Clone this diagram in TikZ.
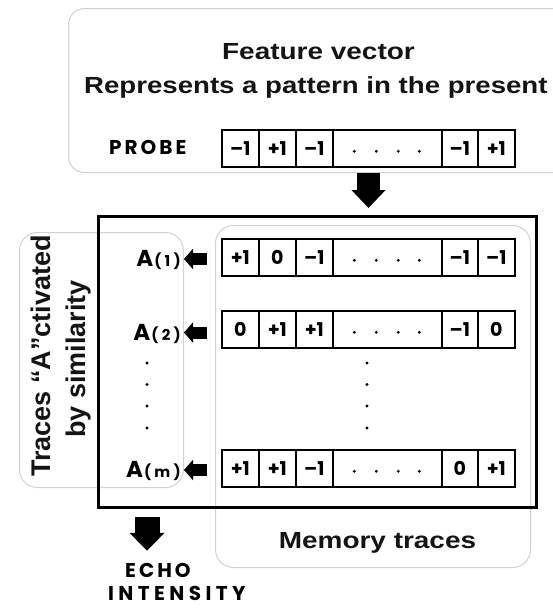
\documentclass[tikz,border=0pt]{standalone}
\usepackage{fontspec}
\setmainfont{Liberation Sans}
\newfontfamily\retro[LetterSpace=15]{Poppins}
\newfontfamily\retrowide[LetterSpace=22]{Poppins}
\newfontfamily\retrocell{Poppins}
\usetikzlibrary{arrows.meta}
\definecolor{boxgray}{gray}{0.82}
\definecolor{ink}{gray}{0.08}
\tikzset{
 softbox/.style={draw=boxgray, line width=1pt, rounded corners=16pt, inner sep=0pt, anchor=north west},
 cellbox/.style={draw=black, line width=1.6pt, inner sep=0pt, minimum height=37pt, anchor=north west,
   font=\retrocell\bfseries\fontsize{19}{19}\selectfont},
 helv/.style={font=\bfseries\fontsize{23.3}{28}\selectfont, text=ink, inner sep=0pt},
 rotlabel/.style={font=\bfseries\fontsize{27}{27}\selectfont, text=ink, inner sep=0pt, rotate=90, anchor=base},
 retrolabel/.style={font=\retro\bfseries\fontsize{20}{20}\selectfont, inner sep=0pt, text depth=0pt},
 alabel/.style={inner sep=0pt, text height=15pt, text depth=0pt, anchor=east},
 downarr/.style={line width=23pt, -{Triangle[width=33pt,length=18pt]}},
 echoarr/.style={line width=25pt, -{Triangle[width=34pt,length=18pt]}},
 leftarr/.style={line width=12pt, -{Triangle[width=20pt,length=9pt]}},
 vdot/.style={circle, fill=black, inner sep=0pt, minimum size=3.2pt},
}
\newcommand\Alab[1]{{\retro\bfseries\fontsize{23}{23}\selectfont A\kern1pt\retrowide\fontsize{15}{15}\selectfont(#1)\kern-3pt}}
% #1 name, #2 top y, #3..#7 values of the cells
\newcommand\vecrow[7]{%
  \node[cellbox, minimum width=37pt] (#1a) at (221,#2) {#3};
  \node[cellbox, minimum width=37pt] (#1b) at (258,#2) {#4};
  \node[cellbox, minimum width=37pt] (#1c) at (295,#2) {#5};
  \node[cellbox, minimum width=109pt] (#1d) at (332,#2) {};
  \node[cellbox, minimum width=36pt] (#1e) at (441,#2) {#6};
  \node[cellbox, minimum width=37pt] (#1f) at (477,#2) {#7};
  \node[vdot] (#1d1) at ([shift={(-33pt,-3pt)}]#1d.center) {};
  \node[vdot] (#1d2) at ([shift={(-11pt,-3pt)}]#1d.center) {};
  \node[vdot] (#1d3) at ([shift={(11pt,-3pt)}]#1d.center) {};
  \node[vdot] (#1d4) at ([shift={(32pt,-3pt)}]#1d.center) {};
}
\begin{document}
\begin{tikzpicture}[x=1pt,y=-1pt]
\useasboundingbox (0,0) rectangle (552,608);
% soft rounded boxes
\node[softbox, minimum width=507pt, minimum height=164pt] (topbox) at (68,8) {};
\node[softbox, minimum width=315pt, minimum height=342pt, rounded corners=18pt] (membox) at (215,225) {};
\node[softbox, minimum width=164pt, minimum height=255pt, rounded corners=18pt] (actbox) at (19,232) {};
% big frame
\node[draw=black, line width=3pt, inner sep=0pt, anchor=north west, minimum width=438pt, minimum height=291pt] (bigbox) at (97,215) {};
% top texts
\node[helv, anchor=base] (fv) at (318.5,59) {\scalebox{1.2}[1]{Feature vector}};
\node[helv, anchor=base west] (rep) at (84,93) {\scalebox{1.185}[1]{Represents a pattern in the present}};
\node[retrolabel, anchor=base west] (probe) at (109,154) {PROBE};
% probe vector
\vecrow{p}{129}{–1}{+1}{–1}{–1}{+1}
% probe arrow
\coordinate (pa) at (368.5,173);
\draw[downarr, shorten >=7pt] (pa) -- (pa |- bigbox.north);
% memory traces
\vecrow{r1}{238}{+1}{0}{–1}{–1}{–1}
\vecrow{r2}{310}{0}{+1}{+1}{–1}{0}
\vecrow{rm}{449}{+1}{+1}{–1}{0}{+1}
\node[vdot] (vd1) at (367,363) {};
\node[vdot] (vd2) at (367,384.5) {};
\node[vdot] (vd3) at (367,406) {};
\node[vdot] (vd4) at (367,428) {};
% activation labels
\node[alabel] (A1) at (178,259) {\Alab{1}};
\node[alabel] (A2) at (178,332.5) {\Alab{2}};
\node[alabel] (Am) at (178,470) {\Alab{m}};
\node[vdot] (ad1) at (147,363) {};
\node[vdot] (ad2) at (147,384.5) {};
\node[vdot] (ad3) at (147,406) {};
\node[vdot] (ad4) at (147,428) {};
\draw[leftarr, shorten <=14pt, shorten >=6pt] (r1a.west |- A1.east) -- (A1.east);
\draw[leftarr, shorten <=14pt, shorten >=6pt] (r2a.west |- A2.east) -- (A2.east);
\draw[leftarr, shorten <=14pt, shorten >=6pt] (rma.west |- Am.east) -- (Am.east);
% rotated label
\node[rotlabel] (tr1) at (50,356) {Traces “A”ctivated};
\node[rotlabel] (tr2) at (85.5,359) {by similarity};
% memory traces label
\node[helv, anchor=base] (mt) at (377.5,548) {\scalebox{1.2}[1]{Memory traces}};
% echo
\node[retrolabel, anchor=base west, text height=15pt] (echo) at (125,577) {ECHO};
\node[retrolabel, anchor=base west, font=\retrowide\bfseries\fontsize{20}{20}\selectfont] (inten) at (108,600.5) {INTENSITY};
\coordinate (ea) at (147,517);
\draw[echoarr, shorten >=11pt] (ea) -- (ea |- echo.north);
\end{tikzpicture}
\end{document}
